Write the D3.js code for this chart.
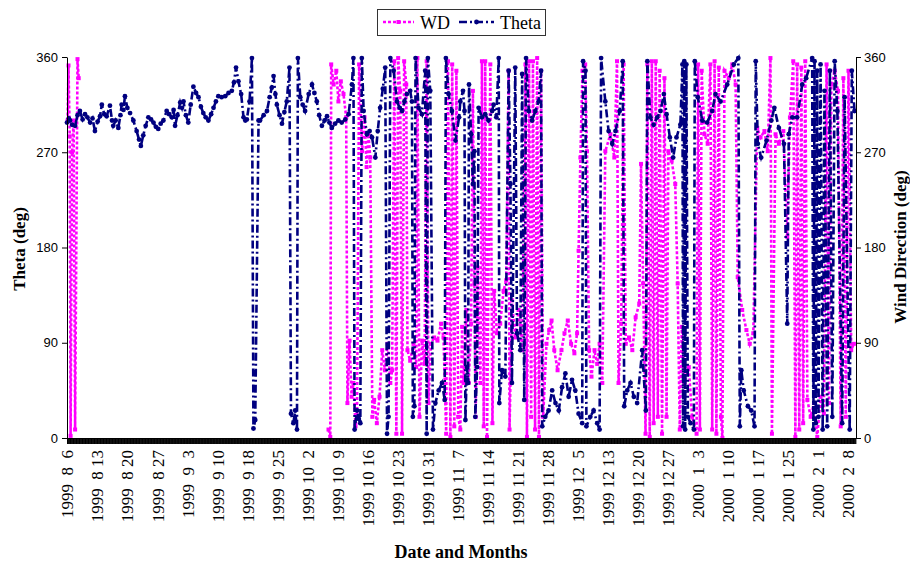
<!DOCTYPE html>
<meta charset="utf-8">
<style>
  body {
    margin: 0;
    background-color: white;
  }
  .tick-y text {
    font-family: "Liberation Sans", Arial, sans-serif;
    font-size: 13px;
  }
  .date-labels text {
    font-family: "Liberation Serif", "Times New Roman", serif;
    font-size: 17px;
    white-space: pre;
  }
  .title {
    font-family: "Liberation Serif", "Times New Roman", serif;
    font-weight: bold;
    font-size: 17px;
  }
  .legend text {
    font-family: "Liberation Serif", "Times New Roman", serif;
    font-size: 18px;
  }
</style>
<script src="https://d3js.org/d3.v7.min.js"></script>
<body>
<div id="chart"></div>
<script>
// category labels, one per axis label slot
const dateLabels = [
  "1999  8  6", "1999  8 13", "1999  8 20", "1999  8 27", "1999  9  3", "1999  9 10",
  "1999  9 18", "1999  9 25", "1999 10  2", "1999 10  9", "1999 10 16", "1999 10 23",
  "1999 10 31", "1999 11  7", "1999 11 14", "1999 11 21", "1999 11 28", "1999 12  5",
  "1999 12 13", "1999 12 20", "1999 12 27", "2000  1  3", "2000  1 10", "2000  1 17",
  "2000  1 25", "2000  2  1", "2000  2  8"
];

const degTicks = [0, 90, 180, 270, 360];

// Theta: [position along the date axis (label slots), degrees]
const thetaData = [
  [0.00,298],[0.06,302],[0.10,300],[0.17,296],[0.27,295],[0.35,305],[0.43,309],[0.52,301],[0.60,306],[0.68,303],
  [0.77,298],[0.85,302],[0.93,290],[1.02,299],[1.10,304],[1.16,315],[1.24,306],[1.32,304],[1.43,314],[1.50,300],
  [1.54,295],[1.62,300],[1.71,293],[1.78,305],[1.82,315],[1.88,310],[1.93,323],[2.01,312],[2.10,307],[2.21,300],
  [2.32,290],[2.40,282],[2.46,276],[2.54,286],[2.62,295],[2.71,303],[2.80,301],[2.88,298],[2.96,294],[3.04,292],
  [3.12,297],[3.21,300],[3.32,309],[3.40,306],[3.49,303],[3.55,310],[3.60,295],[3.68,305],[3.77,317],[3.83,312],
  [3.88,318],[3.96,305],[4.04,298],[4.12,315],[4.21,332],[4.30,326],[4.38,322],[4.46,313],[4.54,307],[4.62,303],
  [4.71,300],[4.80,306],[4.88,312],[4.96,318],[5.04,323],[5.15,322],[5.27,323],[5.38,326],[5.49,328],[5.56,336],
  [5.63,350],[5.71,337],[5.80,325],[5.88,303],[5.94,300],[5.99,301],[6.08,318],[6.16,359],[6.21,9],[6.27,17],
  [6.38,300],[6.43,300],[6.55,305],[6.66,309],[6.75,322],[6.82,331],[6.88,342],[6.94,325],[6.99,315],[7.08,305],
  [7.16,297],[7.24,308],[7.32,318],[7.41,350],[7.46,23],[7.54,14],[7.60,26],[7.66,8],[7.69,359],[7.77,322],
  [7.85,315],[7.93,309],[8.05,325],[8.16,334],[8.24,326],[8.32,318],[8.40,305],[8.49,295],[8.58,300],[8.66,304],
  [8.74,298],[8.82,293],[8.93,297],[9.04,300],[9.15,298],[9.27,301],[9.38,306],[9.49,334],[9.54,359],[9.58,8],
  [9.66,26],[9.72,18],[9.77,14],[9.82,359],[9.88,309],[9.99,287],[10.08,290],[10.16,284],[10.27,265],[10.35,290],
  [10.43,312],[10.52,330],[10.60,350],[10.66,4],[10.71,20],[10.77,359],[10.88,347],[10.99,318],[11.08,312],[11.16,309],
  [11.24,318],[11.32,325],[11.43,328],[11.49,318],[11.52,20],[11.57,30],[11.61,359],[11.71,312],[11.82,306],[11.93,347],
  [11.98,4],[12.02,359],[12.10,328],[12.19,8],[12.27,33],[12.38,45],[12.49,52],[12.58,36],[12.62,359],[12.71,325],
  [12.82,309],[12.94,281],[13.06,303],[13.10,318],[13.19,328],[13.24,309],[13.27,17],[13.32,67],[13.36,52],[13.39,334],
  [13.46,287],[13.52,240],[13.57,271],[13.60,20],[13.66,67],[13.71,312],[13.82,303],[13.93,306],[14.04,300],[14.16,309],
  [14.21,315],[14.30,303],[14.38,359],[14.40,33],[14.49,64],[14.60,58],[14.71,347],[14.77,240],[14.82,52],[14.93,350],
  [14.99,99],[15.10,83],[15.16,344],[15.23,36],[15.29,359],[15.38,309],[15.49,300],[15.60,309],[15.71,318],[15.79,347],
  [15.83,11],[15.93,20],[16.04,26],[16.16,45],[16.27,33],[16.38,26],[16.49,48],[16.60,61],[16.71,39],[16.82,55],
  [16.93,45],[17.04,23],[17.16,14],[17.19,356],[17.27,347],[17.30,11],[17.43,20],[17.54,26],[17.66,14],[17.74,8],
  [17.79,359],[17.93,318],[18.04,290],[18.16,278],[18.27,290],[18.41,309],[18.51,356],[18.56,30],[18.66,45],[18.77,52],
  [18.88,39],[18.99,33],[19.16,83],[19.28,26],[19.33,356],[19.43,303],[19.54,296],[19.66,303],[19.77,309],[19.88,325],
  [19.97,306],[20.08,284],[20.19,265],[20.30,284],[20.43,296],[20.50,353],[20.52,11],[20.56,356],[20.59,8],[20.63,353],
  [20.68,20],[20.77,14],[20.88,8],[20.91,356],[21.01,322],[21.16,300],[21.32,298],[21.49,309],[21.60,325],[21.77,318],
  [21.99,334],[22.21,353],[22.36,359],[22.41,11],[22.46,64],[22.54,45],[22.68,30],[22.79,26],[22.90,11],[22.94,356],
  [23.01,278],[23.12,265],[23.30,281],[23.46,300],[23.56,312],[23.71,293],[23.88,278],[23.99,108],[24.04,287],[24.16,303],
  [24.32,303],[24.49,334],[24.62,340],[24.82,359],[24.86,8],[24.90,356],[24.94,14],[24.99,347],[25.03,20],[25.10,353],
  [25.17,8],[25.23,328],[25.32,11],[25.41,347],[25.49,20],[25.57,356],[25.66,309],[25.82,14],[25.90,322],[26.07,8],
  [26.14,347],[26.23,309]
];

// WD (wind direction): same layout, null = no reading
const wdData = [
  [0.02,300],[0.05,352],[0.09,285],[0.12,2],[0.17,270],[0.22,300],[0.27,8],[0.35,358],[0.39,340],[0.45,null],
  [8.71,8],[8.77,1],[8.80,353],[8.88,334],[8.97,347],[9.04,318],[9.12,337],[9.21,325],[9.30,303],[9.34,33],
  [9.41,92],[9.48,39],[9.54,52],[9.61,11],[9.66,20],[9.73,353],[9.83,271],[9.91,303],[9.98,256],[10.04,287],
  [10.10,265],[10.17,20],[10.23,36],[10.32,14],[10.41,39],[10.50,83],[10.59,64],[10.68,89],[10.77,52],[10.83,64],
  [10.90,356],[10.97,4],[11.03,359],[11.10,328],[11.16,4],[11.23,356],[11.30,334],[11.34,83],[11.43,73],[11.54,89],
  [11.63,67],[11.67,359],[11.74,20],[11.83,92],[11.91,70],[11.98,356],[12.04,33],[12.12,89],[12.23,95],[12.34,92],
  [12.46,108],[12.54,95],[12.63,4],[12.69,356],[12.77,1],[12.83,353],[12.90,11],[12.97,347],[13.03,20],[13.10,8],
  [13.16,105],[13.21,52],[13.30,121],[13.38,52],[13.46,108],[13.52,328],[13.57,146],[13.61,20],[13.68,161],[13.77,52],
  [13.82,356],[13.88,11],[13.93,356],[13.99,1],[14.10,353],[14.17,14],[14.23,139],[14.32,99],[14.43,108],[14.54,139],
  [14.63,149],[14.71,347],[14.74,8],[14.82,130],[14.93,95],[15.04,121],[15.16,83],[15.27,353],[15.32,1],[15.39,356],
  [15.46,20],[15.52,356],[15.59,8],[15.66,359],[15.72,1],[15.79,347],[15.86,20],[15.97,89],[16.06,102],[16.14,111],
  [16.23,83],[16.34,64],[16.47,83],[16.57,99],[16.68,111],[16.79,89],[16.90,80],[16.99,99],[17.04,177],[17.10,265],
  [17.17,347],[17.26,353],[17.32,271],[17.39,83],[17.47,58],[17.57,83],[17.66,70],[17.74,89],[17.83,52],[17.93,271],
  [18.10,287],[18.23,265],[18.32,356],[18.37,52],[18.46,108],[18.54,353],[18.61,89],[18.72,95],[18.83,83],[18.94,114],
  [19.06,127],[19.12,259],[19.19,146],[19.27,4],[19.33,353],[19.41,1],[19.48,356],[19.54,14],[19.61,356],[19.68,20],
  [19.74,347],[19.82,4],[19.90,340],[19.97,20],[20.03,271],[20.14,262],[20.26,240],[20.34,146],[20.41,8],[20.48,105],
  [20.57,52],[20.71,67],[20.82,20],[20.97,4],[21.02,353],[21.08,8],[21.14,347],[21.23,287],[21.34,278],[21.43,353],
  [21.49,8],[21.57,356],[21.63,4],[21.71,350],[21.78,20],[21.83,0],[21.90,347],[22.04,340],[22.16,353],[22.27,334],
  [22.34,152],[22.49,121],[22.63,102],[22.74,89],[22.86,99],[22.99,293],[23.10,284],[23.23,290],[23.34,271],[23.43,359],
  [23.48,4],[23.60,287],[23.71,278],[23.86,290],[23.99,190],[24.08,303],[24.19,356],[24.26,1],[24.32,353],[24.39,8],
  [24.46,350],[24.52,14],[24.59,356],[24.66,36],[24.77,20],[24.88,33],[24.99,1],[25.10,39],[25.21,23],[25.30,353],
  [25.38,33],[25.46,334],[25.57,347],[25.68,328],[25.77,11],[25.86,340],[25.94,20],[26.03,347],[26.12,83],[26.21,89]
];

const width = 910, height = 563;
const plot = {left: 67, right: 856, top: 57, bottom: 438};

const wdColor = "#FF00FF", thetaColor = "#000080";
const wdDash = "3,2", thetaDash = "8,3,2,3";

var svg = d3.select("#chart")
  .append("svg")
    .attr("width", width)
    .attr("height", height)
    .style("display", "block");

var x = d3.scaleLinear()
  .domain([0, 26.28])
  .range([plot.left, plot.right]);

var y = d3.scaleLinear()
  .domain([0, 360])
  .range([plot.bottom, plot.top]);

var line = d3.line()
  .defined(d => d[1] !== null)
  .x(d => x(d[0]))
  .y(d => y(d[1]));

// WD first, Theta on top (series order)
svg.append("path")
  .datum(wdData)
  .attr("d", line)
  .attr("fill", "none")
  .attr("stroke", wdColor)
  .attr("stroke-width", 2.6)
  .attr("stroke-dasharray", wdDash);

svg.append("g")
  .selectAll("rect")
  .data(wdData.filter(d => d[1] !== null))
  .join("rect")
    .attr("x", d => x(d[0]) - 2)
    .attr("y", d => y(d[1]) - 2)
    .attr("width", 4)
    .attr("height", 4)
    .attr("fill", wdColor);

svg.append("path")
  .datum(thetaData)
  .attr("d", line)
  .attr("fill", "none")
  .attr("stroke", thetaColor)
  .attr("stroke-width", 2.6)
  .attr("stroke-dasharray", thetaDash);

svg.append("g")
  .selectAll("circle")
  .data(thetaData)
  .join("circle")
    .attr("cx", d => x(d[0]))
    .attr("cy", d => y(d[1]))
    .attr("r", 2.4)
    .attr("fill", thetaColor);

// dense category ticks make the black band under the plot
svg.append("g")
  .attr("transform", "translate(0," + plot.bottom + ")")
  .call(d3.axisBottom(x)
    .tickValues(d3.range(0, 26.28, 0.02))
    .tickSize(6)
    .tickSizeOuter(0)
    .tickFormat(""))
  .call(g => g.selectAll("line").attr("stroke", "black"));

svg.append("g")
  .attr("class", "date-labels")
  .attr("transform", "translate(0," + plot.bottom + ")")
  .call(d3.axisBottom(x)
    .tickValues(d3.range(dateLabels.length))
    .tickSize(0)
    .tickFormat(i => dateLabels[i]))
  .call(g => g.select(".domain").remove())
  .call(g => g.selectAll("text")
    .attr("transform", "rotate(-90)")
    .attr("text-anchor", "end")
    .attr("x", -12)
    .attr("y", 0)
    .attr("dy", "0.35em")
    .attr("fill", "black"));

svg.append("g")
  .attr("class", "tick-y")
  .attr("transform", "translate(" + plot.left + ",0)")
  .call(d3.axisLeft(y).tickValues(degTicks).tickSize(5).tickSizeOuter(0).tickPadding(4))
  .call(g => g.selectAll("text").attr("fill", "black"));

svg.append("g")
  .attr("class", "tick-y")
  .attr("transform", "translate(" + plot.right + ",0)")
  .call(d3.axisRight(y).tickValues(degTicks).tickSize(5).tickSizeOuter(0).tickPadding(3))
  .call(g => g.selectAll("text").attr("fill", "black"));

// axis titles
svg.append("text")
  .attr("class", "title")
  .attr("transform", "translate(25,249) rotate(-90)")
  .attr("text-anchor", "middle")
  .text("Theta (deg)");

svg.append("text")
  .attr("class", "title")
  .attr("transform", "translate(906,247) rotate(-90)")
  .attr("text-anchor", "middle")
  .text("Wind Direction (deg)");

svg.append("text")
  .attr("class", "title")
  .attr("x", 461)
  .attr("y", 558)
  .attr("text-anchor", "middle")
  .style("font-size", "18px")
  .text("Date and Months");

// legend
var legend = svg.append("g").attr("class", "legend");
legend.append("rect")
  .attr("x", 377.5).attr("y", 9.5)
  .attr("width", 168).attr("height", 26)
  .attr("fill", "white")
  .attr("stroke", "#333")
  .attr("stroke-width", 1);

legend.append("line")
  .attr("x1", 383).attr("x2", 414).attr("y1", 22).attr("y2", 22)
  .attr("stroke", wdColor).attr("stroke-width", 2.6).attr("stroke-dasharray", wdDash);
legend.append("rect")
  .attr("x", 396.5).attr("y", 20).attr("width", 4).attr("height", 4)
  .attr("fill", wdColor);
legend.append("text").attr("x", 420).attr("y", 29).text("WD");

legend.append("line")
  .attr("x1", 459).attr("x2", 494).attr("y1", 22).attr("y2", 22)
  .attr("stroke", thetaColor).attr("stroke-width", 2.6).attr("stroke-dasharray", thetaDash);
legend.append("circle")
  .attr("cx", 476.5).attr("cy", 22).attr("r", 2.4)
  .attr("fill", thetaColor);
legend.append("text").attr("x", 500).attr("y", 29).text("Theta");
</script>
</body>
